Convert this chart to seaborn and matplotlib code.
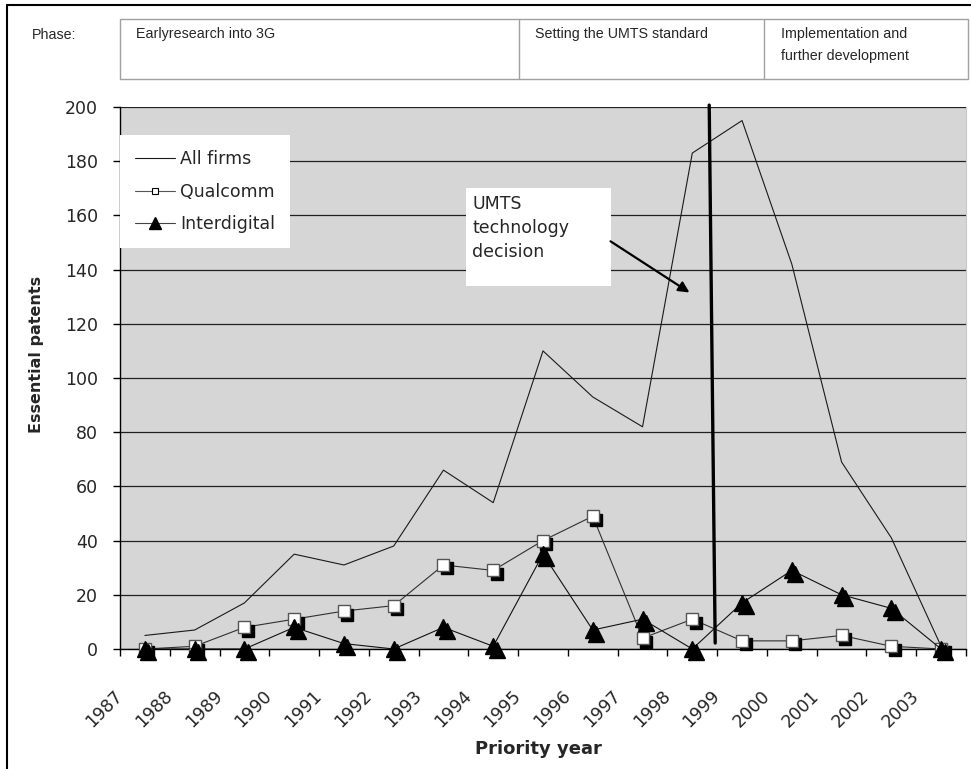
import numpy as np
import pandas as pd
import matplotlib
matplotlib.use('Agg')
import matplotlib.pyplot as plt
import seaborn as sns
from matplotlib import font_manager
from matplotlib.lines import Line2D
from matplotlib.patches import Rectangle
from matplotlib.transforms import ScaledTranslation

# data
years = [str(y) for y in range(1987, 2004)]
all_firms = [5, 7, 17, 35, 31, 38, 66, 54, 110, 93, 82, 183, 195, 142, 69, 41, 1]
qualcomm = [0, 1, 8, 11, 14, 16, 31, 29, 40, 49, 4, 11, 3, 3, 5, 1, 0]
interdigital = [0, 0, 0, 8, 2, 0, 8, 1, 35, 7, 11, 0, 17, 29, 20, 15, 0]

phases = ['Earlyresearch into 3G', 'Setting the UMTS standard', 'Implementation and\nfurther development']

sns.set_style('ticks')
plt.rcParams['font.family'] = ['DejaVu Sans']

# narrow font for the header, if there is one
names = {f.name for f in font_manager.fontManager.ttflist}
if 'Liberation Sans Narrow' in names:
    head_font, head_size = 'Liberation Sans Narrow', 12
else:
    head_font, head_size = 'Liberation Sans', 10.3

fig = plt.figure(figsize=(9.71, 7.69), dpi=100)
W, H = 971, 769
ax = fig.add_axes([120 / W, 1 - 649 / H, 846 / W, 542 / H])
ax.set_facecolor('#d6d6d6')

pos = np.arange(len(years))
shadow = ax.transData + ScaledTranslation(2.5 / 72, -2.5 / 72, fig.dpi_scale_trans)

sns.lineplot(x=pos, y=all_firms, ax=ax, color='#1a1a1a', lw=0.8, zorder=3)
sns.lineplot(x=pos, y=qualcomm, ax=ax, color='#303030', lw=0.8, zorder=3)
ax.plot(pos, qualcomm, ls='none', marker='s', ms=9, mfc='k', mec='k', transform=shadow,
        zorder=4, clip_on=False)
ax.plot(pos, qualcomm, ls='none', marker='s', ms=9, mfc='white', mec='#555555', mew=1,
        zorder=5, clip_on=False)
sns.lineplot(x=pos, y=interdigital, ax=ax, color='#111111', lw=0.8, zorder=6)
ax.plot(pos, interdigital, ls='none', marker='^', ms=11.5, mfc='k', mec='k', transform=shadow,
        zorder=6, clip_on=False)
ax.plot(pos, interdigital, ls='none', marker='^', ms=11.5, mfc='k', mec='k', zorder=7, clip_on=False)

ax.set_xlim(-0.5, len(years) - 0.5)
ax.set_ylim(0, 200)
ax.set_yticks(np.arange(0, 201, 20))
ax.yaxis.grid(True, color='#202020', lw=0.9)
ax.set_axisbelow(True)
ax.set_xticks(np.arange(-0.5, len(years), 1))
ax.set_xticklabels(years + [''], rotation=45, ha='right', va='center', rotation_mode='anchor')
ax.tick_params(axis='x', length=5, width=1, color='k', pad=27, labelsize=12.5)
ax.tick_params(axis='y', length=5, width=1, color='k', pad=11, labelsize=12.5)
for s in ['left', 'bottom']:
    ax.spines[s].set_color('k')
    ax.spines[s].set_linewidth(1)
ax.spines['top'].set_visible(False)
ax.spines['right'].set_color('#c8c8c8')

ax.set_xlabel('Priority year', fontsize=13, fontweight='bold')
ax.set_ylabel('Essential patents', fontsize=11.5, fontweight='bold')
ax.xaxis.set_label_coords(0.495, -0.168)
ax.yaxis.set_label_coords(-0.09, 0.544)

# decision line
ax.plot([11.34, 11.46], [200.7, 2.2], color='k', lw=2.4, zorder=8, clip_on=False)

# text box and arrow
ax.add_patch(Rectangle((0.409, 0.6697), 0.171, 0.181, transform=ax.transAxes,
                       facecolor='white', edgecolor='none', zorder=9))
ax.text(0.4165, 0.838, 'UMTS\ntechnology\ndecision', transform=ax.transAxes, fontsize=12.5,
        va='top', ha='left', linespacing=1.45, zorder=10)
ax.annotate('', xy=(10.99, 131), xytext=(9.31, 151),
            arrowprops=dict(arrowstyle='-|>', color='k', lw=1.6, mutation_scale=16), zorder=10)

# legend
handles = [Line2D([], [], color='#1a1a1a', lw=0.8),
           Line2D([], [], color='#555555', lw=0.8, marker='s', ms=4.5, mfc='white', mec='k', mew=0.8),
           Line2D([], [], color='#444444', lw=0.8, marker='^', ms=9, mfc='k', mec='k')]
leg = ax.legend(handles, ['All firms', 'Qualcomm', 'Interdigital'], loc='upper left',
                bbox_to_anchor=(0, 0.948), borderaxespad=0, fontsize=12.5, frameon=True,
                fancybox=False, framealpha=1, facecolor='white', edgecolor='none',
                handlelength=2.3, handletextpad=0.3, labelspacing=0.85, borderpad=0.85)
leg.set_zorder(10)

# header table
gray = '#a0a0a0'
fig.add_artist(Rectangle((120 / W, 1 - 79 / H), 848 / W, 60 / H, transform=fig.transFigure,
                         facecolor='white', edgecolor=gray, lw=1))
for xd in [519, 764]:
    fig.add_artist(Line2D([xd / W, xd / W], [1 - 79 / H, 1 - 19 / H], transform=fig.transFigure,
                          color=gray, lw=1))
fig.text(32 / W, 1 - 35 / H, 'Phase:', family=head_font, fontsize=head_size, va='center')
for xt, txt in zip([136, 535, 781], phases):
    fig.text(xt / W, 1 - 27 / H, txt, family=head_font, fontsize=head_size, va='top',
             linespacing=1.75)

# outer frame
fig.add_artist(Line2D([7 / W, 7 / W], [0, 1 - 5 / H], transform=fig.transFigure, color='k', lw=1.5))
fig.add_artist(Line2D([7 / W, 1], [1 - 5 / H, 1 - 5 / H], transform=fig.transFigure, color='k', lw=1.5))

fig.savefig('out.png', dpi=100)
